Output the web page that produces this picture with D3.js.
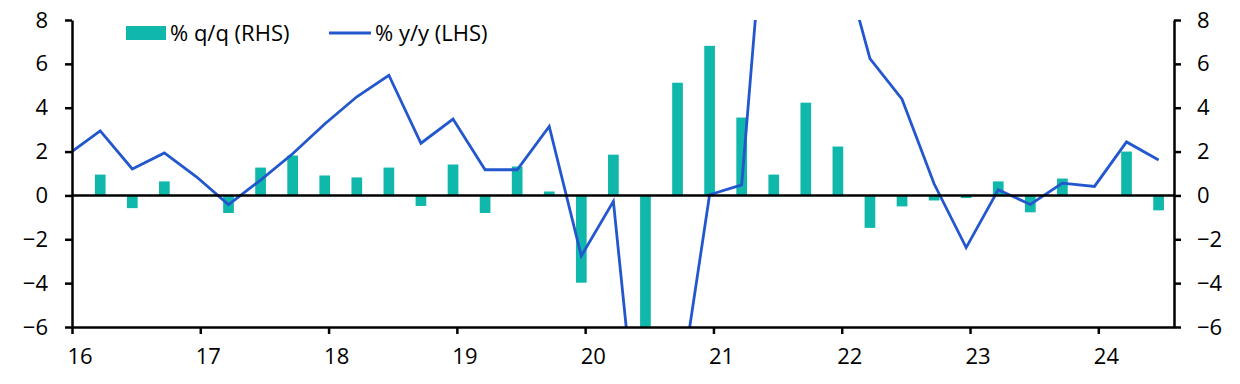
<!DOCTYPE html>
<html>
<head>
<meta charset="utf-8">
<script src="https://cdn.jsdelivr.net/npm/d3@7"></script>
<style>
  body { margin: 0; background: #fff; }
  text { font-family: "Open Sans", "Noto Sans", sans-serif; fill: #000; }
</style>
</head>
<body>
<script>
// quarters (2015Q4 only feeds the start of the line)
var quarters = ["15Q4",
  "16Q1", "16Q2", "16Q3", "16Q4", "17Q1", "17Q2", "17Q3", "17Q4",
  "18Q1", "18Q2", "18Q3", "18Q4", "19Q1", "19Q2", "19Q3", "19Q4",
  "20Q1", "20Q2", "20Q3", "20Q4", "21Q1", "21Q2", "21Q3", "21Q4",
  "22Q1", "22Q2", "22Q3", "22Q4", "23Q1", "23Q2", "23Q3", "23Q4",
  "24Q1", "24Q2"];

// % q/q (RHS)
var qoq = [null,
  0.95, -0.58, 0.64, 0.0, -0.8, 1.27, 1.82, 0.91,
  0.82, 1.27, -0.48, 1.41, -0.8, 1.32, 0.18, -3.98,
  1.86, -13.0, 5.14, 6.82, 3.55, 0.95, 4.23, 2.23,
  -1.48, -0.5, -0.23, -0.12, 0.64, -0.77, 0.77, 0.0,
  2.0, -0.68];

// % y/y (LHS)
var yoy = [1.87,
  2.94, 1.21, 1.94, 0.85, -0.42, 0.7, 1.9, 3.26,
  4.5, 5.48, 2.38, 3.48, 1.17, 1.17, 3.15, -2.76,
  -0.27, -14.6, -9.7, 0.03, 0.48, 18.2, 15.5, 11.6,
  6.24, 4.39, 0.53, -2.38, 0.26, -0.41, 0.56, 0.41,
  2.44, 1.62];

var xTicks = [16, 17, 18, 19, 20, 21, 22, 23, 24];
var yTicks = [-6, -4, -2, 0, 2, 4, 6, 8];

var svgWidth = 1240;
var svgHeight = 384;

var margin = {
    top: 20,
    right: 66,
    bottom: 57,
    left: 72
};

var width = svgWidth - margin.left - margin.right;
var height = svgHeight - margin.top - margin.bottom;

var teal = "#0fb8aa";
var blue = "#2257cd";
var fontSize = 22;

var svg = d3.select("body")
    .append("svg")
    .attr("width", svgWidth)
    .attr("height", svgHeight);

var chartGroup = svg.append("g")
    .attr("transform", `translate(${margin.left}, ${margin.top})`);

// quarter -> position on the year axis (plotted just before quarter end)
var data = quarters.map(function (q, i) {
    var yr = +q.slice(0, 2);
    var qn = +q.slice(3);
    return { t: yr + qn / 4 - 0.03, qoq: qoq[i], yoy: yoy[i] };
});

var xScale = d3.scaleLinear()
    .domain([16, 24.59])
    .range([0, width]);

var yLeft = d3.scaleLinear()
    .domain([-6, 8])
    .range([height, 0]);

var yRight = d3.scaleLinear()
    .domain([-6, 8])
    .range([height, 0]);

chartGroup.append("clipPath")
    .attr("id", "plotClip")
    .append("rect")
    .attr("x", 0)
    .attr("y", 0)
    .attr("width", width)
    .attr("height", height);

var plot = chartGroup.append("g").attr("clip-path", "url(#plotClip)");

// bars
var quarterWidth = xScale(16.25) - xScale(16);
var barWidth = quarterWidth / 3;

plot.selectAll("rect.bar")
    .data(data.filter(d => d.qoq !== null))
    .enter()
    .append("rect")
    .attr("class", "bar")
    .attr("x", d => xScale(d.t) - barWidth / 2)
    .attr("y", d => yRight(Math.max(0, d.qoq)))
    .attr("width", barWidth)
    .attr("height", d => Math.abs(yRight(d.qoq) - yRight(0)))
    .attr("fill", teal);

// zero line
chartGroup.append("line")
    .attr("x1", 0)
    .attr("x2", width)
    .attr("y1", yLeft(0))
    .attr("y2", yLeft(0))
    .attr("stroke", "#000")
    .attr("stroke-width", 2.5);

// y/y line
var line = d3.line()
    .x(d => xScale(d.t))
    .y(d => yLeft(d.yoy));

plot.append("path")
    .datum(data)
    .attr("d", line)
    .attr("fill", "none")
    .attr("stroke", blue)
    .attr("stroke-width", 2.8)
    .attr("stroke-linejoin", "miter");

// axes
var bottomAxis = d3.axisBottom(xScale)
    .tickValues(xTicks)
    .tickFormat(d => d)
    .tickSize(7)
    .tickSizeOuter(0);

var leftAxis = d3.axisLeft(yLeft)
    .tickValues(yTicks)
    .tickSize(7)
    .tickSizeOuter(0)
    .tickPadding(17);

var rightAxis = d3.axisRight(yRight)
    .tickValues(yTicks)
    .tickSize(7)
    .tickSizeOuter(0)
    .tickPadding(16);

var xAxisG = chartGroup.append("g")
    .attr("transform", `translate(0, ${height})`)
    .call(bottomAxis);

xAxisG.selectAll("text")
    .attr("text-anchor", "start")
    .attr("x", -5)
    .attr("y", 37)
    .attr("dy", 0);

chartGroup.append("g")
    .call(leftAxis);

chartGroup.append("g")
    .attr("transform", `translate(${width}, 0)`)
    .call(rightAxis);

chartGroup.selectAll(".domain, .tick line")
    .attr("stroke", "#000")
    .attr("stroke-width", 2.5);

chartGroup.selectAll(".tick text")
    .style("font-size", fontSize + "px")
    .style("font-family", "\"Open Sans\", \"Noto Sans\", sans-serif")
    .attr("fill", "#000");

// legend
var legend = svg.append("g");

legend.append("rect")
    .attr("x", 126)
    .attr("y", 26)
    .attr("width", 40)
    .attr("height", 14)
    .attr("fill", teal);

legend.append("text")
    .attr("x", 170)
    .attr("y", 41)
    .style("font-size", fontSize + "px")
    .text("% q/q (RHS)");

legend.append("line")
    .attr("x1", 329)
    .attr("x2", 371)
    .attr("y1", 33)
    .attr("y2", 33)
    .attr("stroke", blue)
    .attr("stroke-width", 2.8);

legend.append("text")
    .attr("x", 375)
    .attr("y", 41)
    .style("font-size", fontSize + "px")
    .text("% y/y (LHS)");
</script>
</body>
</html>
